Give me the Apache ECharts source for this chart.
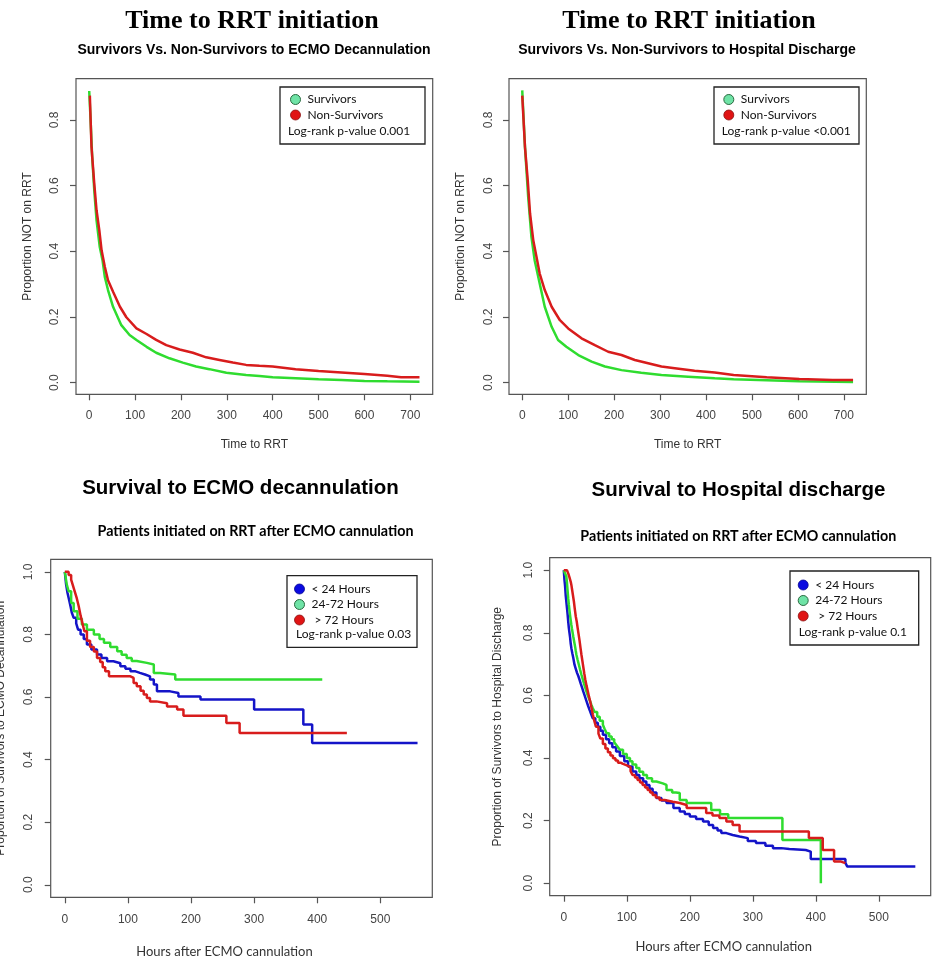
<!DOCTYPE html>
<html><head><meta charset="utf-8">
<script src="https://cdn.jsdelivr.net/npm/echarts@6/dist/echarts.min.js"></script>
<style>html,body{margin:0;padding:0;background:#fff}#c{width:946px;height:963px}</style>
</head><body><div id="c"></div>
<script>
// ---------- Panel 1: Time to RRT, survivors vs non-survivors to ECMO decannulation ----------
const survT1 = [0,3,6.5,11,16,23,29,34,41,52,70,88,103,125,146,175,204,233,262,299,342,371,400,450,500,550,600,650,720];
const survV1 = [0.888,0.80,0.687,0.586,0.494,0.413,0.373,0.322,0.282,0.231,0.175,0.145,0.130,0.109,0.091,0.074,0.061,0.049,0.041,0.030,0.023,0.020,0.016,0.013,0.010,0.008,0.005,0.004,0.003];
const nonT1 = [1.4,5,11,16,22,27,34,41,52,67,81,103,125,146,168,197,226,255,284,313,342,371,400,450,500,550,600,650,680,720];
const nonV1 = [0.874,0.717,0.606,0.525,0.464,0.403,0.353,0.312,0.277,0.231,0.199,0.165,0.148,0.130,0.114,0.101,0.091,0.077,0.069,0.061,0.054,0.051,0.049,0.041,0.035,0.031,0.026,0.021,0.016,0.016];
// ---------- Panel 2: Time to RRT, survivors vs non-survivors to hospital discharge ----------
const survT2 = [0,6,13,20,27,38,49,64,78,96,122,151,180,216,259,303,361,419,460,532,603,720];
const survV2 = [0.890,0.717,0.565,0.444,0.373,0.302,0.231,0.170,0.130,0.109,0.084,0.064,0.049,0.038,0.030,0.023,0.018,0.013,0.010,0.007,0.004,0.002];
const nonT2 = [0,6,12,17,24,31,38,49,64,82,100,129,158,187,216,245,274,303,332,375,419,460,532,603,675,720];
const nonV2 = [0.874,0.717,0.616,0.515,0.434,0.383,0.332,0.282,0.231,0.190,0.165,0.135,0.114,0.094,0.084,0.069,0.059,0.049,0.044,0.036,0.031,0.023,0.016,0.011,0.008,0.008];
// ---------- Panel 3: Survival to ECMO decannulation ----------
const blueT3 = [0,2,4,6,9,11,14,18,21,25,30,35,42,51,58,67,77,88,96,104,112,119,127,135,141,146,167,180,215,300,378,392,559];
const blueV3 = [1.0,0.96,0.935,0.917,0.89,0.87,0.853,0.835,0.815,0.80,0.785,0.768,0.752,0.736,0.725,0.714,0.708,0.698,0.69,0.682,0.677,0.672,0.666,0.656,0.640,0.618,0.613,0.602,0.592,0.560,0.512,0.453,0.453];
const greenT3 = [0,3,6,10,14,20,27,35,46,55,62,72,83,90,98,106,114,130,141,151,175,408];
const greenV3 = [1.0,0.96,0.938,0.90,0.874,0.85,0.832,0.815,0.80,0.785,0.773,0.76,0.746,0.735,0.725,0.715,0.709,0.704,0.677,0.672,0.656,0.656];
const redT3 = [0,6,10,13,16,19,22,25,28,31,35,40,46,51,56,60,64,70,104,109,114,120,125,130,135,145,162,178,188,256,277,447];
const redV3 = [1.0,0.99,0.975,0.955,0.935,0.915,0.89,0.86,0.835,0.81,0.78,0.76,0.745,0.725,0.712,0.695,0.682,0.666,0.661,0.645,0.634,0.62,0.608,0.597,0.586,0.58,0.57,0.56,0.54,0.517,0.485,0.485];
// ---------- Panel 4: Survival to hospital discharge ----------
const blueT4 = [0,1,2,3,4,5,6,7,8,9,10,11,12,13.5,15,17,19,21,23,25,27,29,31,33,36,38.5,41,43.5,46,50,54,58,62,67,72,77,83,89,96,102,109,115,120,126,131,136,141,147,155,163,174,184,192,200,210,221,230,237,244,250,258,268,279,292,305,320,332,345,358,384,392,447,450,558];
const blueV4 = [1.0,0.97,0.95,0.92,0.90,0.88,0.86,0.836,0.815,0.80,0.785,0.765,0.751,0.735,0.72,0.698,0.685,0.672,0.662,0.65,0.637,0.625,0.612,0.60,0.582,0.567,0.553,0.54,0.527,0.513,0.50,0.487,0.474,0.46,0.447,0.434,0.421,0.406,0.39,0.373,0.357,0.346,0.335,0.325,0.314,0.302,0.29,0.272,0.264,0.256,0.24,0.229,0.221,0.213,0.205,0.197,0.186,0.176,0.168,0.16,0.154,0.149,0.144,0.135,0.128,0.12,0.112,0.109,0.106,0.101,0.077,0.065,0.053,0.053];
const greenT4 = [0,3,4,5,6,7,8,9,10,11,12,13,14,15,16,17,18,19,20,22,24,26,28,30,32,34,36,38,40,42,44,46,49,53,57,62,65,68,72,76,80,83,86,89,94,100,105,109,115,120,126,132,140,147,157,163,172,178,184,195,226,234,248,261,347,408];
const greenV4 = [1.0,1.0,0.98,0.96,0.935,0.91,0.89,0.872,0.855,0.84,0.825,0.812,0.8,0.788,0.777,0.766,0.755,0.742,0.73,0.713,0.697,0.681,0.666,0.652,0.638,0.625,0.612,0.60,0.59,0.58,0.569,0.559,0.547,0.532,0.519,0.506,0.492,0.479,0.469,0.46,0.45,0.442,0.434,0.426,0.413,0.40,0.39,0.379,0.368,0.356,0.346,0.335,0.325,0.319,0.314,0.298,0.29,0.288,0.266,0.256,0.256,0.234,0.22,0.208,0.138,0.0];
const redT4 = [0,5,7,9,11,12,13,14.5,16,17.5,19,20.5,22,23.5,25,26.5,28,29.5,31,32.5,34,36,38,40,42,44,46,48,51,55,58,62,66,70,74,78,82,86,90,94,98,102,106,109,113,117,121,125,129,133,137,141,146,152,160,173,184,195,226,236,247,258,268,279,389,411,429,440,447];
const redV4 = [1.0,1.0,0.99,0.977,0.963,0.953,0.94,0.92,0.90,0.875,0.852,0.836,0.815,0.795,0.775,0.752,0.73,0.71,0.69,0.67,0.652,0.632,0.614,0.596,0.58,0.56,0.54,0.522,0.5,0.478,0.462,0.445,0.43,0.418,0.408,0.399,0.392,0.385,0.381,0.378,0.375,0.37,0.358,0.346,0.338,0.33,0.322,0.314,0.306,0.298,0.29,0.282,0.274,0.266,0.26,0.256,0.25,0.24,0.224,0.216,0.208,0.197,0.186,0.165,0.144,0.106,0.069,0.064,0.064];

// ---------- tick labels ----------
const xTicksTop = [0,100,200,300,400,500,600,700];
const yTicksTop = [0,0.2,0.4,0.6,0.8];
const xTicksBot = [0,100,200,300,400,500];
const yTicksBot = [0,0.2,0.4,0.6,0.8,1.0];

const pair = (t, v) => t.map((x, i) => [x, v[i]]);

const ARIAL = 'Liberation Sans';
const CALIBRI = 'Lato';
const GREEN_LINE = '#2fdc2f', RED_LINE = '#d81c1c', BLUE_LINE = '#1414c8';

function xAxis(gi, min, max, ticks, name, nameGap, margin, shift, nameFont, nameSize) {
  return {
    type: 'value', gridIndex: gi, min, max, name,
    nameLocation: 'middle', nameGap,
    nameTextStyle: { fontFamily: nameFont, fontSize: nameSize, color: '#333', padding: shift ? [0, shift, 0, 0] : 0 },
    axisLine: { show: false, onZero: false },
    axisTick: { show: true, customValues: ticks, length: 6, lineStyle: { color: '#555', width: 1.2 } },
    axisLabel: { customValues: ticks, margin, fontFamily: ARIAL, fontSize: 12, color: '#444' },
    splitLine: { show: false }
  };
}
function yAxis(gi, min, max, ticks, name, nameGap, margin) {
  return {
    type: 'value', gridIndex: gi, min, max, name,
    nameLocation: 'middle', nameGap, nameRotate: 90,
    nameTextStyle: { fontFamily: ARIAL, fontSize: 12, color: '#333' },
    axisLine: { show: false, onZero: false },
    axisTick: { show: true, customValues: ticks, length: 6, lineStyle: { color: '#555', width: 1.2 } },
    axisLabel: { customValues: ticks, margin, rotate: 90, fontFamily: ARIAL, fontSize: 12, color: '#444',
      formatter: v => v.toFixed(1) },
    splitLine: { show: false }
  };
}
function line(name, xi, data, color, step) {
  return { type: 'line', name, xAxisIndex: xi, yAxisIndex: xi, data, showSymbol: false, symbol: 'none',
    step: step ? 'end' : false, lineStyle: { color, width: 2.5 }, itemStyle: { color }, silent: true };
}
function title(text, x, y, family, size, weight) {
  return { text, left: x, top: y, textAlign: 'center', textVerticalAlign: 'middle', padding: 0,
    textStyle: { fontFamily: family, fontSize: size, fontWeight: weight, color: '#000' } };
}
const legStyle = { fontFamily: CALIBRI, fontSize: 12, color: '#111' };
function legend(items, left, top) {
  return { orient: 'vertical', left, top, padding: 0, itemWidth: 14, itemHeight: 10, itemGap: 3.5,
    icon: 'circle', selectedMode: false, textStyle: legStyle, data: items,
    formatter: n => (n.charAt(0) === '>' ? ' ' + n : n) };
}
const legGreen = n => ({ name: n, itemStyle: { color: '#6fe3a6', borderColor: '#2a6a40', borderWidth: 1 } });
const legRed = n => ({ name: n, itemStyle: { color: '#e01414', borderColor: '#8a1010', borderWidth: 0.8 } });
const legBlue = n => ({ name: n, itemStyle: { color: '#0a0ae0', borderColor: '#050590', borderWidth: 0.8 } });

function box(x1, y1, x2, y2) {
  return { type: 'rect', shape: { x: x1, y: y1, width: x2 - x1, height: y2 - y1 },
    style: { fill: null, stroke: '#222', lineWidth: 1.3 }, silent: true, z: 10 };
}
function ptext(t, x, y) {
  return { type: 'text', x, y, style: { text: t, fontFamily: CALIBRI, fontSize: 12, fill: '#111', textVerticalAlign: 'middle' }, silent: true, z: 10 };
}
function grid(left, top, width, height) {
  return { left, top, width, height, show: true, borderColor: '#555', borderWidth: 1.2,
    containLabel: false, outerBoundsMode: 'none' };
}

const option = {
  animation: false,
  backgroundColor: '#fff',
  title: [
    title('Time to RRT initiation', 252, 21, 'Liberation Serif', 26, 'bold'),
    title('Survivors Vs. Non-Survivors to ECMO Decannulation', 254, 50, ARIAL, 14, 'bold'),
    title('Time to RRT initiation', 689, 21, 'Liberation Serif', 26, 'bold'),
    title('Survivors Vs. Non-Survivors to Hospital Discharge', 687, 50, ARIAL, 14, 'bold'),
    title('Survival to ECMO decannulation', 240.5, 488, ARIAL, 20.5, 'bold'),
    title('Patients initiated on RRT after ECMO cannulation', 255.5, 531.7, CALIBRI, 14.3, 'bold'),
    title('Survival to Hospital discharge', 738.5, 490, ARIAL, 20.5, 'bold'),
    title('Patients initiated on RRT after ECMO cannulation', 738.3, 536, CALIBRI, 14.3, 'bold')
  ],
  grid: [
    grid(76, 78.7, 356.7, 315.6),
    grid(509, 78.7, 357.3, 315.6),
    grid(50.7, 559.3, 381.6, 338),
    grid(549.7, 557.7, 381, 338)
  ],
  xAxis: [
    xAxis(0, -28.8, 748.8, xTicksTop, 'Time to RRT', 44, 15.5, 0, ARIAL, 12),
    xAxis(1, -28.8, 748.8, xTicksTop, 'Time to RRT', 44, 15.5, 0, ARIAL, 12),
    xAxis(2, -22.4, 582.4, xTicksBot, 'Hours after ECMO cannulation', 48, 16.5, 34, CALIBRI, 13),
    xAxis(3, -22.4, 582.4, xTicksBot, 'Hours after ECMO cannulation', 44.5, 16, 33, CALIBRI, 13)
  ],
  yAxis: [
    yAxis(0, -0.0356, 0.9256, yTicksTop, 'Proportion NOT on RRT', 42, 15),
    yAxis(1, -0.0356, 0.9256, yTicksTop, 'Proportion NOT on RRT', 42, 14),
    yAxis(2, -0.04, 1.04, yTicksBot, 'Proportion of Survivors to ECMO Decannulation', 44, 16.5),
    yAxis(3, -0.04, 1.04, yTicksBot, 'Proportion of Survivors to Hospital Discharge', 45.7, 15.5)
  ],
  legend: [
    legend([legGreen('Survivors'), legRed('Non-Survivors')], 290, 93.5),
    legend([legGreen('Survivors'), legRed('Non-Survivors')], 723.3, 93.5),
    legend([legBlue('< 24 Hours'), legGreen('24-72 Hours'), legRed('> 72 Hours')], 294, 583),
    legend([legBlue('< 24 Hours'), legGreen('24-72 Hours'), legRed('> 72 Hours')], 797.7, 579)
  ],
  graphic: [
    box(280, 87, 425, 144), ptext('Log-rank p-value 0.001', 288, 131),
    box(714, 87, 859, 144), ptext('Log-rank p-value <0.001', 721.7, 131),
    box(287, 575.7, 417, 647.3), ptext('Log-rank p-value 0.03', 296, 634.3),
    box(790, 571, 918.7, 645), ptext('Log-rank p-value 0.1', 798.7, 632.3)
  ],
  series: [
    line('Survivors', 0, pair(survT1, survV1), GREEN_LINE, false),
    line('Non-Survivors', 0, pair(nonT1, nonV1), RED_LINE, false),
    line('Survivors', 1, pair(survT2, survV2), GREEN_LINE, false),
    line('Non-Survivors', 1, pair(nonT2, nonV2), RED_LINE, false),
    line('< 24 Hours', 2, pair(blueT3, blueV3), BLUE_LINE, true),
    line('24-72 Hours', 2, pair(greenT3, greenV3), GREEN_LINE, true),
    line('> 72 Hours', 2, pair(redT3, redV3), RED_LINE, true),
    line('< 24 Hours', 3, pair(blueT4, blueV4), BLUE_LINE, true),
    line('24-72 Hours', 3, pair(greenT4, greenV4), GREEN_LINE, true),
    line('> 72 Hours', 3, pair(redT4, redV4), RED_LINE, true)
  ]
};
const chart = echarts.init(document.getElementById('c'));
chart.setOption(option);
</script>
</body></html>
